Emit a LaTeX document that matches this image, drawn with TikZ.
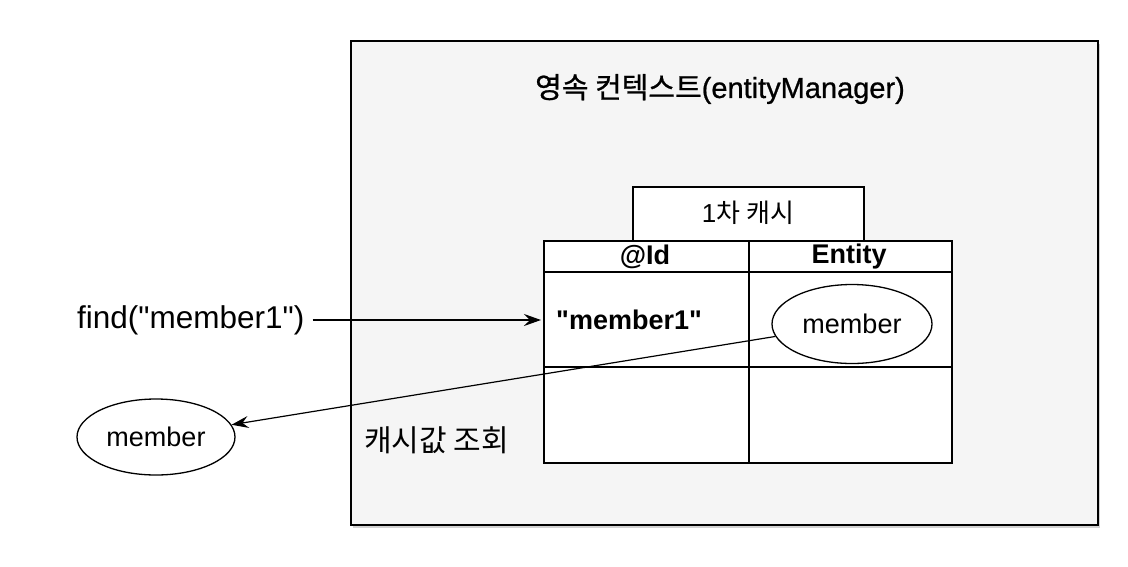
\documentclass[tikz,border=0pt]{standalone}
\usepackage{fontspec}
\setmainfont{Liberation Sans}
\newfontfamily\cjk{Noto Sans CJK KR}
\newfontfamily\cjkmed[FakeBold=0.8]{Noto Sans CJK KR}
\newfontfamily\latmed[FakeBold=0.8]{Liberation Sans}
\usetikzlibrary{shapes.geometric,shadows,arrows.meta}
\begin{document}
\begin{tikzpicture}[x=1pt,y=-1pt,
  ctxbox/.style={draw=black, line width=1.6pt, fill=black!4, anchor=north west, inner sep=0pt,
     drop shadow={opacity=0.35, shadow xshift=2pt, shadow yshift=-3pt}},
  cell/.style={draw=black, line width=1.6pt, fill=white, anchor=north west, inner sep=0pt},
  ell/.style={draw=black, line width=1.3pt, fill=white, ellipse, inner sep=0pt, font=\fontsize{27}{32}\selectfont},
  arr/.style={line width=1.2pt, -{Stealth[length=17pt,width=12pt,inset=6pt]}},
  txt/.style={inner sep=0pt}
]
\useasboundingbox (0,0) rectangle (1128,566);
\fill[white] (0,0) rectangle (1128,566);
\node[ctxbox, minimum width=747pt, minimum height=484pt] (ctx) at (350,40) {};
\node[txt, font=\fontsize{29}{34}\selectfont] (title) at (720,89) {{\cjkmed 영속 컨텍스트}{\latmed (entityManager)}};
% cache title box
\node[cell, minimum width=231pt, minimum height=54pt] (cache) at (632,186) {};
\node[txt, font=\fontsize{26}{30}\selectfont] (cachet) at (748,213) {1{\cjk 차 캐시}};
% table
\node[cell, minimum width=205pt, minimum height=31pt] (hid) at (543,240) {};
\node[cell, minimum width=203pt, minimum height=31pt] (hent) at (748,240) {};
\node[cell, minimum width=205pt, minimum height=95pt] (rid) at (543,271) {};
\node[cell, minimum width=203pt, minimum height=95pt] (rent) at (748,271) {};
\node[cell, minimum width=205pt, minimum height=96pt] (eid) at (543,366) {};
\node[cell, minimum width=203pt, minimum height=96pt] (eent) at (748,366) {};
\node[txt, font=\bfseries\fontsize{27}{32}\selectfont] (hidt) at (645,257) {@Id};
\node[txt, font=\bfseries\fontsize{27}{32}\selectfont] (hentt) at (849,257) {Entity};
\node[txt, font=\bfseries\fontsize{27}{32}\selectfont, anchor=west] (kval) at (556,320) {\textquotedbl member1\textquotedbl};
\node[ell, minimum width=160pt, minimum height=79pt] (em) at (852,324) {member};
% left side
\node[txt, font=\fontsize{31.5}{36}\selectfont, anchor=west] (find) at (77,320) {find(\textquotedbl member1\textquotedbl)};
\node[ell, minimum width=158pt, minimum height=76pt] (lm) at (156,437) {member};
\node[txt, font=\cjk\fontsize{30}{36}\selectfont, anchor=west] (lookup) at (364,440) {캐시값 조회};
% connectors
\draw[arr, shorten <=8pt, shorten >=2pt] (find.east) -- (rid.west |- find.east);
\draw[arr] (em) -- (lm);
\end{tikzpicture}
\end{document}
